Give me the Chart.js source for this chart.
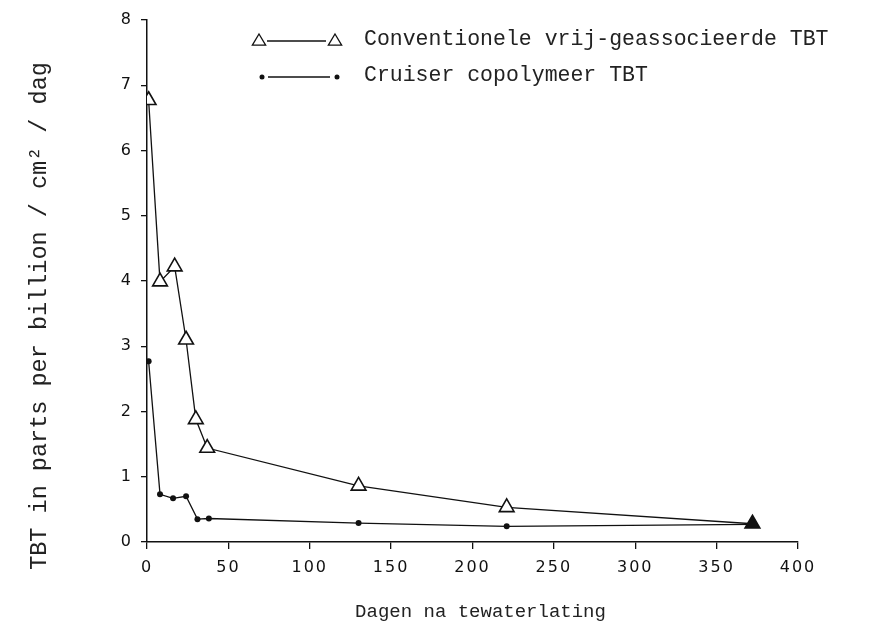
<!DOCTYPE html>
<html>
<head>
<meta charset="utf-8">
<script src="https://cdn.jsdelivr.net/npm/chart.js@4"></script>
<style>
html,body{margin:0;padding:0;background:#fff;}
#wrap{position:relative;width:895px;height:629px;}
</style>
</head>
<body>
<div id="wrap"><canvas id="c" width="895" height="629"></canvas></div>
<script>
const seriesNames = ["Conventionele vrij-geassocieerde TBT", "Cruiser copolymeer TBT"];
const convDays = [1, 8, 17, 24, 30, 37, 130, 221, 372];
const convValues = [6.77, 3.99, 4.22, 3.1, 1.88, 1.44, 0.86, 0.53, 0.28];
const cruiserDays = [1, 8, 16, 24, 31, 38, 130, 221, 372];
const cruiserValues = [2.77, 0.73, 0.67, 0.7, 0.35, 0.36, 0.29, 0.24, 0.27];
const xTitle = "Dagen na tewaterlating";
const yTitle = "TBT in parts per billion / cm² / dag";
const xTicks = [0, 50, 100, 150, 200, 250, 300, 350, 400];
const yTicks = [0, 1, 2, 3, 4, 5, 6, 7, 8];

const monoFont = '"Liberation Mono", "DejaVu Sans Mono", monospace';
const tickFont = { family: '"DejaVu Sans", sans-serif', size: 16 };

const convData = convDays.map((d, i) => ({ x: d, y: convValues[i] }));
const cruiserData = cruiserDays.map((d, i) => ({ x: d, y: cruiserValues[i] }));

const spacingPlugin = {
  id: 'spacing',
  beforeLayout(chart) { chart.ctx.letterSpacing = '2px'; },
  beforeDraw(chart) { chart.ctx.letterSpacing = '2px'; },
  afterDatasetsDraw(chart) { chart.ctx.letterSpacing = '0px'; }
};

const overlayPlugin = {
  id: 'overlay',
  afterDraw(chart) {
    const ctx = chart.ctx;
    const area = chart.chartArea;
    ctx.save();
    ctx.letterSpacing = '0px';
    ctx.fillStyle = '#222';
    ctx.textAlign = 'center';
    ctx.textBaseline = 'middle';
    // X title
    ctx.font = '19px ' + monoFont;
    ctx.fillText(xTitle, (area.left + area.right) / 2 + 8, 612);
    // Y title
    ctx.font = '23.5px ' + monoFont;
    ctx.translate(40, 316);
    ctx.rotate(-Math.PI / 2);
    ctx.fillText(yTitle, 0, 0);
    ctx.restore();

    // Legend
    ctx.save();
    ctx.letterSpacing = '0px';
    ctx.strokeStyle = '#111';
    ctx.fillStyle = '#111';
    ctx.lineWidth = 1.3;
    const tri = (x, y, r) => {
      ctx.beginPath();
      ctx.moveTo(x, y - r);
      ctx.lineTo(x + r * 0.95, y + r * 0.6);
      ctx.lineTo(x - r * 0.95, y + r * 0.6);
      ctx.closePath();
      ctx.fillStyle = '#fff';
      ctx.fill();
      ctx.stroke();
    };
    // row 1
    ctx.beginPath(); ctx.moveTo(267, 41); ctx.lineTo(326, 41); ctx.stroke();
    tri(259, 41, 7);
    tri(335, 41, 7);
    // row 2
    ctx.beginPath(); ctx.moveTo(268, 77); ctx.lineTo(330, 77); ctx.stroke();
    ctx.fillStyle = '#111';
    ctx.beginPath(); ctx.arc(262, 77, 2.5, 0, Math.PI * 2); ctx.fill();
    ctx.beginPath(); ctx.arc(337, 77, 2.5, 0, Math.PI * 2); ctx.fill();
    ctx.font = '21.5px ' + monoFont;
    ctx.fillStyle = '#222';
    ctx.textAlign = 'left';
    ctx.textBaseline = 'middle';
    ctx.fillText(seriesNames[0], 364, 39);
    ctx.fillText(seriesNames[1], 364, 75);
    ctx.restore();
  }
};

new Chart(document.getElementById('c'), {
  type: 'scatter',
  data: {
    datasets: [
      {
        label: seriesNames[0],
        data: convData,
        showLine: true,
        borderColor: '#111',
        borderWidth: 1.3,
        pointStyle: 'triangle',
        pointRadius: 8.5,
        pointBorderWidth: 1.6,
        pointBorderColor: '#111',
        pointBackgroundColor: (c) => c.dataIndex === convData.length - 1 ? '#111' : '#fff',
        tension: 0
      },
      {
        label: seriesNames[1],
        data: cruiserData,
        showLine: true,
        borderColor: '#111',
        borderWidth: 1.3,
        pointStyle: 'circle',
        pointRadius: 3,
        pointBorderWidth: 0,
        pointBackgroundColor: '#111',
        tension: 0
      }
    ]
  },
  options: {
    responsive: false,
    animation: false,
    layout: { padding: { left: 0, right: 97, top: 20, bottom: 0 } },
    plugins: { legend: { display: false }, tooltip: { enabled: false } },
    scales: {
      x: {
        type: 'linear',
        min: 0, max: 400,
        afterBuildTicks: (s) => { s.ticks = xTicks.map(v => ({ value: v })); },
        afterFit: (s) => { s.height = 87; },
        ticks: { color: '#111', font: tickFont, padding: 9, maxRotation: 0 },
        grid: { drawOnChartArea: false, drawTicks: true, tickLength: 7, color: '#111', lineWidth: 1.3 },
        border: { display: true, color: '#111', width: 1.5 },
        title: { display: false }
      },
      y: {
        type: 'linear',
        min: 0, max: 8,
        afterBuildTicks: (s) => { s.ticks = yTicks.map(v => ({ value: v })); },
        afterFit: (s) => { s.width = 147; },
        ticks: { color: '#111', font: tickFont, padding: 8 },
        grid: { drawOnChartArea: false, drawTicks: true, tickLength: 6, color: '#111', lineWidth: 1.3 },
        border: { display: true, color: '#111', width: 1.5 }
      }
    }
  },
  plugins: [spacingPlugin, overlayPlugin]
});
</script>
</body>
</html>
